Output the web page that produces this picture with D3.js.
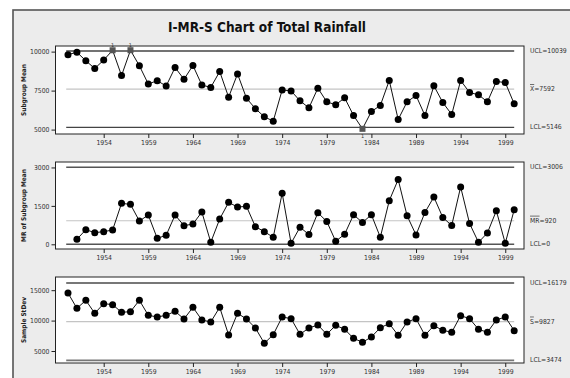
<!DOCTYPE html>
<html><head><meta charset="utf-8">
<script src="https://cdn.jsdelivr.net/npm/d3@7"></script>
<style>
body{margin:0;background:#fff;}
svg{display:block;font-family:"DejaVu Sans",Verdana,sans-serif;}
</style></head>
<body>
<svg id="chart" width="570" height="378"></svg>
<script>
// ---------- data ----------
const years = d3.range(1950, 2001);
const subgroupMean = [9805,9960,9415,8918,9459,10087,8463,10090,9091,7922,
  8138,7792,8982,8225,9112,7857,7705,8723,7077,8571,
  7012,6341,5822,5540,7540,7480,6844,6395,7656,6780,
  6588,7036,5904,5049,6160,6545,8148,5647,6780,7186,
  5904,7806,6737,5968,8148,7378,7229,6780,8083,8019,6652];
const movingRange = [null,195,572,455,494,559,1598,1559,909,1143,
  234,351,1143,727,792,1260,78,987,1637,1455,
  1481,688,494,273,1995,40,668,380,1231,891,
  118,393,1153,852,1153,275,1703,2528,1114,367,
  1245,1847,1048,734,2240,812,79,445,1310,39,1349];
const sampleStDev = [14536,12017,13332,11196,12784,12620,11360,11470,13332,10867,
  10594,10867,11525,10265,12182,10101,9772,12182,7637,11196,
  10265,8787,6268,7691,10594,10320,7746,8787,9279,7746,
  9225,8568,7089,6432,7308,8841,9498,7582,9772,10320,
  7582,9170,8403,8075,10813,10320,8568,8075,10101,10594,8349];
const xTicks = [1954,1959,1964,1969,1974,1979,1984,1989,1994,1999];
const meanLimits = {ucl:10039, center:7592, lcl:5146};
const mrLimits = {ucl:3006, center:920, lcl:0};
const sdLimits = {ucl:16179, center:9827, lcl:3474};
const meanTicks = [5000,7500,10000];
const mrTicks = [0,1500,3000];
const sdTicks = [5000,10000,15000];
const title = "I-MR-S Chart of Total Rainfall";

// ---------- drawing ----------
const small = "'DejaVu Sans Condensed','DejaVu Sans',sans-serif";
const svg = d3.select("#chart");
svg.append("rect").attr("x",13).attr("y",10).attr("width",600).attr("height",400)
  .attr("fill","#ececec").attr("stroke","#555").attr("stroke-width",1.6);
svg.append("text").attr("x",267).attr("y",32).attr("text-anchor","middle")
  .attr("font-family",small)
  .attr("font-weight","bold").attr("font-size",13.5).attr("fill","#111").text(title);

const left = 55.5, right = 524;
const x = d3.scaleLinear().domain([1948.6, 2001.1]).range([left, right]);

function panel(cfg){
  const {top,bottom,domain,values,limits,ticks,ylabel,centerLabel} = cfg;
  const y = d3.scaleLinear().domain(domain).range([bottom, top]);
  const g = svg.append("g");
  g.append("rect").attr("x",left).attr("y",top).attr("width",right-left).attr("height",bottom-top)
    .attr("fill","#fff").attr("stroke","#222").attr("stroke-width",1);
  const xa = g.append("g").attr("transform",`translate(0,${bottom})`)
    .call(d3.axisBottom(x).tickValues(xTicks).tickFormat(d3.format("d")).tickSize(4).tickPadding(2));
  xa.select(".domain").remove();
  xa.selectAll("text").attr("font-size",6.8).attr("fill","#333").attr("font-family",small);
  xa.selectAll("line").attr("stroke","#222");
  const ya = g.append("g").attr("transform",`translate(${left},0)`)
    .call(d3.axisLeft(y).tickValues(ticks).tickFormat(d3.format("d")).tickSize(4).tickPadding(2));
  ya.select(".domain").remove();
  ya.selectAll("text").attr("font-size",6.8).attr("fill","#333").attr("font-family",small);
  ya.selectAll("line").attr("stroke","#222");
  g.append("text").attr("transform",`translate(24,${(top+bottom)/2}) rotate(-90)`)
    .attr("text-anchor","middle").attr("dominant-baseline","middle").attr("font-family",small)
    .attr("font-size",6.5).attr("font-weight","bold").attr("fill","#222").text(ylabel);
  const x0 = x(1949.8), x1 = x(2000);
  [["ucl",cfg.limitColor,cfg.limitWidth],["lcl",cfg.limitColor,cfg.limitWidth],["center","#c4c4c4",1.2]].forEach(([k,c,w])=>{
    g.append("line").attr("x1",x0).attr("x2",x1).attr("y1",y(limits[k])).attr("y2",y(limits[k]))
      .attr("stroke",c).attr("stroke-width",w);
  });
  const lx = 530;
  const lab = v => g.append("text").attr("x",lx).attr("y",y(v)).attr("dominant-baseline","middle")
    .attr("font-size",6.8).attr("font-family",small).attr("fill","#333");
  lab(limits.ucl).text("UCL=" + limits.ucl);
  const ct = lab(limits.center);
  ct.append("tspan").style("text-decoration","overline").text(centerLabel);
  ct.append("tspan").text("=" + limits.center);
  lab(limits.lcl).text("LCL=" + limits.lcl);
  const pts = years.map((yr,i)=>({yr, v:values[i]})).filter(d=>d.v!==null);
  g.append("path").datum(pts).attr("fill","none").attr("stroke","#111").attr("stroke-width",1)
    .attr("d", d3.line().x(d=>x(d.yr)).y(d=>y(d.v)));
  const isOut = d => d.v > limits.ucl || d.v < limits.lcl;
  g.selectAll("circle.pt").data(pts.filter(d=>!isOut(d))).join("circle")
    .attr("cx",d=>x(d.yr)).attr("cy",d=>y(d.v)).attr("r",3.5).attr("fill","#000");
  const outs = pts.filter(isOut);
  g.selectAll("rect.oo").data(outs).join("rect")
    .attr("x",d=>x(d.yr)-3).attr("y",d=>y(d.v)-3).attr("width",6).attr("height",6).attr("fill","#555");
  g.selectAll("text.oo").data(outs).join("text")
    .attr("x",d=>x(d.yr)).attr("y",d=> d.v>limits.ucl ? y(d.v)-3.5 : y(d.v)+9)
    .attr("text-anchor","middle").attr("font-size",5).attr("fill","#333").text("1");
}

panel({top:46,bottom:134,domain:[4717,10360],values:subgroupMean,limits:meanLimits,ticks:meanTicks,
  ylabel:"Subgroup Mean",centerLabel:"X",limitColor:"#444",limitWidth:1.3});
panel({top:162,bottom:249,domain:[-183,3213],values:movingRange,limits:mrLimits,ticks:mrTicks,
  ylabel:"MR of Subgroup Mean",centerLabel:"MR",limitColor:"#555",limitWidth:1.5});
panel({top:277,bottom:363,domain:[3030,17165],values:sampleStDev,limits:sdLimits,ticks:sdTicks,
  ylabel:"Sample StDev",centerLabel:"S",limitColor:"#777",limitWidth:1.8});
</script>
</body></html>
